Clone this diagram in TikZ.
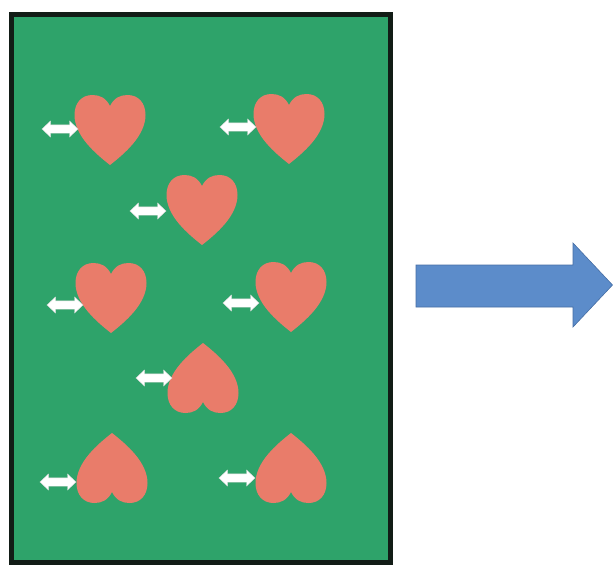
\documentclass[tikz,border=0pt]{standalone}
\definecolor{board}{RGB}{46,163,106}
\definecolor{frameblack}{RGB}{18,28,22}
\definecolor{heartred}{RGB}{233,124,106}
\definecolor{bigarrow}{RGB}{92,140,202}
\definecolor{bigarrowline}{RGB}{70,110,165}
\tikzset{
  boardbox/.style={fill=board, draw=frameblack, line width=5pt},
  heartfill/.style={fill=heartred, draw=none},
  twowayfill/.style={fill=white, draw=white!85!black, line width=0.4pt},
  bigarrowstyle/.style={fill=bigarrow, draw=bigarrowline, line width=0.6pt},
  % heart of 71 x 70, origin at its centre, lobes toward -y (up on the page)
  heart/.pic={
    \fill[heartfill] (0,-24)
      .. controls (-4,-32) and (-10,-35) .. (-17.5,-35)
      .. controls (-28.5,-35) and (-35.5,-27) .. (-35.5,-15)
      .. controls (-35.5,6) and (-14,24) .. (0,35)
      .. controls (14,24) and (35.5,6) .. (35.5,-15)
      .. controls (35.5,-27) and (28.5,-35) .. (17.5,-35)
      .. controls (10,-35) and (4,-32) .. (0,-24) -- cycle;
  },
  % small white double-headed arrow, 36 long, origin at its centre
  twoway/.pic={
    \filldraw[twowayfill] (-18,0) -- (-9.5,-8) -- (-9.5,-4.2) -- (9.5,-4.2)
      -- (9.5,-8) -- (18,0) -- (9.5,8) -- (9.5,4.2) -- (-9.5,4.2)
      -- (-9.5,8) -- cycle;
  }
}
\begin{document}
\begin{tikzpicture}[x=1pt,y=-1pt]
\useasboundingbox (0,0) rectangle (613,565);
\fill[white] (0,0) rectangle (613,565);

% the green board with its black frame
\draw[boardbox] (11,14) rectangle (390.5,562);

% upright hearts
\pic (h1) at (110,130) {heart};
\pic (h2) at (289,129) {heart};
\pic (h3) at (202,210) {heart};
\pic (h4) at (111,298) {heart};
\pic (h5) at (291,297) {heart};
% upside-down hearts
\pic[yscale=-1] (h6) at (203,378) {heart};
\pic[yscale=-1] (h7) at (112,468) {heart};
\pic[yscale=-1] (h8) at (291,468) {heart};

% double arrows beside the hearts
\pic (a1) at (60,129) {twoway};
\pic (a2) at (238,127) {twoway};
\pic (a3) at (148,211) {twoway};
\pic (a4) at (65,305) {twoway};
\pic (a5) at (241,303) {twoway};
\pic (a6) at (154,378) {twoway};
\pic (a7) at (58,482) {twoway};
\pic (a8) at (237,478) {twoway};

% large block arrow on the right
\filldraw[bigarrowstyle] (416,265) -- (573,265) -- (573,243) -- (612.5,285)
  -- (573,327) -- (573,307) -- (416,307) -- cycle;
\end{tikzpicture}
\end{document}
